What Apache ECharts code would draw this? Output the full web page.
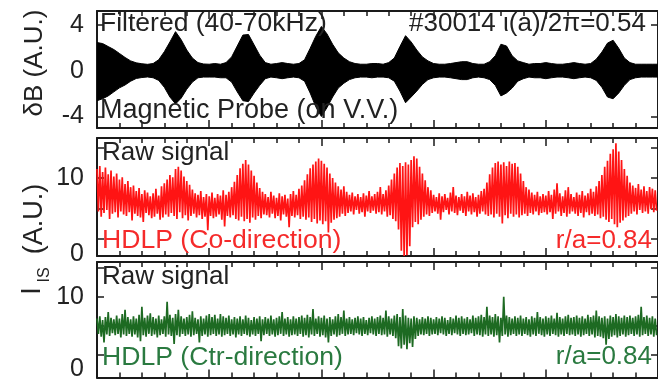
<!DOCTYPE html>
<html><head><meta charset="utf-8">
<script src="https://cdn.jsdelivr.net/npm/echarts@6/dist/echarts.min.js"></script>
<style>html,body{margin:0;padding:0;background:#fff}#c{width:658px;height:382px}</style>
</head><body><div id="c"></div><script>
// ---- data ----
const envPeriod = 0.05;   // sample spacing of the probe envelope (time units)
const rawPeriod = 0.025;  // bin spacing of the raw probe signals (time units)

// Filtered magnetic probe signal: upper / lower envelope (A.U.)
const probeUpper = [2.45,2.36,2.1,1.84,1.5,1.15,0.85,0.68,0.6,0.55,
  0.62,0.95,1.65,2.5,3.4,2.7,1.8,1.1,0.7,0.58,
  0.56,0.62,0.56,0.7,1.2,2.15,3.1,3.15,2.25,1.35,
  0.7,0.56,0.62,0.7,0.62,0.56,0.62,0.95,1.95,3.0,
  3.85,3.2,2.3,1.55,1.1,0.78,0.62,0.56,0.56,0.62,
  0.62,0.56,0.7,1.1,2.1,3.05,2.5,1.8,1.2,0.85,
  0.62,0.56,0.56,0.62,0.7,0.78,0.78,0.62,0.56,0.56,
  0.78,1.3,2.3,2.15,1.3,0.85,0.7,0.56,0.62,0.62,
  0.7,0.62,0.56,0.56,0.62,0.7,0.62,0.56,0.62,1.0,
  1.62,2.4,2.65,1.95,1.1,0.7,0.56,0.56,0.56,0.56,0.56];
const probeLower = [-2.62,-2.45,-2.2,-1.85,-1.5,-1.25,-0.92,-0.68,-0.6,-0.55,
  -0.62,-0.85,-1.45,-2.3,-2.9,-2.4,-1.62,-1.0,-0.62,-0.56,
  -0.56,-0.56,-0.62,-0.62,-1.0,-1.85,-2.62,-2.7,-1.95,-1.28,
  -0.7,-0.56,-0.62,-0.7,-0.62,-0.56,-0.62,-0.92,-1.95,-3.15,
  -4.0,-3.22,-2.3,-1.52,-1.1,-0.78,-0.62,-0.56,-0.56,-0.62,
  -0.56,-0.56,-0.62,-0.92,-1.78,-2.8,-2.3,-1.78,-1.2,-0.78,
  -0.62,-0.56,-0.56,-0.62,-0.7,-0.78,-0.78,-0.62,-0.56,-0.62,
  -0.78,-1.28,-2.2,-1.95,-1.52,-0.92,-0.7,-0.56,-0.62,-0.62,
  -0.7,-0.62,-0.56,-0.56,-0.62,-0.7,-0.62,-0.56,-0.62,-0.85,
  -1.45,-2.3,-2.45,-1.95,-1.28,-0.78,-0.62,-0.56,-0.56,-0.56,-0.56];

// HDLP co-direction raw Iis: per-bin max / min (A.U.)
const coHigh = [11.2,11.6,10.8,11.4,10.5,11.0,10.2,10.6,9.8,10.1,
  9.2,9.6,8.8,9.0,8.3,8.7,7.9,8.4,8.1,7.6,
  8.0,8.6,7.7,8.9,9.3,9.8,10.4,10.1,11.2,11.5,
  11.0,10.2,9.6,9.1,8.5,8.0,7.8,8.3,7.5,7.9,
  7.6,8.1,7.4,7.9,7.7,8.4,7.8,8.2,8.8,9.5,
  10.4,11.3,11.9,12.4,11.8,11.0,10.3,9.4,8.7,8.2,
  7.9,7.5,8.2,7.7,7.4,8.0,7.6,7.8,7.3,7.9,
  8.3,7.8,8.6,9.0,9.7,10.5,11.3,11.8,12.2,12.6,
  12.3,11.9,11.4,10.6,10.0,9.4,8.9,8.5,8.9,8.2,
  7.8,8.1,7.6,7.9,7.5,8.0,7.7,8.3,7.6,7.9,
  8.2,8.8,7.9,8.4,9.0,9.8,10.6,11.4,12.0,11.6,
  12.1,11.8,12.4,12.9,12.6,11.5,10.6,9.7,8.8,8.4,
  7.8,7.5,8.0,7.6,7.9,7.4,8.1,8.8,7.7,7.5,
  7.9,7.6,8.2,7.7,8.0,7.5,7.8,8.3,8.6,9.4,
  10.5,11.4,12.0,12.2,11.8,12.1,11.6,12.2,11.9,12.0,
  11.5,10.6,9.6,8.8,8.5,8.1,7.8,8.2,7.6,7.9,
  7.7,8.3,7.8,8.5,9.3,8.0,7.6,8.4,8.8,7.9,
  7.5,8.1,7.8,8.3,7.7,8.0,8.6,8.2,8.9,9.6,
  10.4,11.5,12.3,13.2,13.8,14.6,13.5,12.4,11.2,10.3,
  9.4,9.0,8.7,9.2,8.5,8.9,8.3,8.8,8.6,8.4];
const coLow = [5.6,4.9,5.4,5.8,4.6,5.3,5.5,4.8,5.6,5.2,
  5.0,5.5,4.4,5.3,5.0,4.8,4.2,5.4,5.1,4.7,
  4.9,5.3,4.5,4.8,5.2,4.9,5.4,5.0,4.6,5.5,
  4.7,5.1,4.4,5.0,5.3,4.8,5.1,4.6,4.9,3.1,
  5.0,4.7,4.9,5.2,4.5,3.6,5.0,4.8,5.1,4.6,
  4.4,4.9,4.3,4.6,4.1,4.8,4.5,5.0,4.7,5.2,
  5.1,4.8,5.3,4.7,5.0,4.4,5.2,4.9,3.5,5.0,
  4.8,5.1,4.6,4.9,4.5,4.8,4.2,4.6,4.0,4.4,
  3.9,4.3,2.8,4.1,4.5,4.7,4.9,5.3,5.0,5.4,
  5.6,5.2,5.8,5.3,5.5,4.9,5.6,5.4,5.7,5.3,
  5.5,5.2,5.6,4.9,5.1,4.6,4.3,3.2,0.4,-0.3,
  -0.2,1.0,3.5,4.2,3.9,4.5,4.9,5.2,5.0,5.4,
  5.6,5.3,4.5,5.5,5.8,5.2,5.6,5.4,5.1,5.7,
  5.4,5.0,5.6,5.2,5.5,4.9,5.3,5.6,5.2,5.0,
  5.2,4.8,5.3,4.9,4.0,5.1,4.7,5.3,4.9,5.2,
  4.8,5.1,5.3,5.0,5.4,5.2,5.6,5.1,5.4,5.5,
  5.2,5.5,4.6,5.3,5.6,5.0,5.4,4.9,5.3,5.6,
  5.3,5.0,5.4,4.8,5.5,5.1,5.3,5.0,5.2,4.7,
  4.9,4.5,4.2,4.6,3.9,3.5,4.1,4.4,4.8,5.0,
  5.3,5.6,5.2,5.8,5.4,5.6,5.3,5.9,5.5,5.7];

// HDLP counter-direction raw Iis: per-bin max / min (A.U.)
const ctrHigh = [7.0,7.3,6.8,7.2,7.9,7.1,6.9,7.4,7.0,7.6,
  8.2,7.2,6.9,7.3,7.0,7.5,8.6,7.1,7.4,7.7,
  7.2,7.0,7.4,6.9,7.3,9.3,7.5,7.1,7.6,8.2,
  7.3,7.0,7.2,7.5,8.0,7.1,6.9,7.3,7.0,7.4,
  7.6,7.2,7.5,7.0,7.6,7.3,7.1,7.4,6.9,7.2,
  7.0,7.3,6.9,7.4,7.1,6.8,7.2,7.0,7.3,6.9,
  7.2,7.0,7.4,6.9,7.1,7.3,7.9,7.0,7.2,6.9,
  7.3,7.0,7.2,7.4,7.1,7.5,7.2,8.3,7.0,7.3,
  7.1,7.4,7.0,7.2,6.9,7.3,7.6,7.2,8.1,7.0,
  7.2,6.9,7.1,7.3,7.0,7.2,6.8,7.1,7.3,7.0,
  7.2,7.4,7.1,8.1,7.3,7.0,7.4,7.6,7.2,8.3,
  7.4,7.1,7.0,7.3,7.1,6.9,7.2,7.0,7.3,7.1,
  6.9,7.2,7.0,7.3,7.1,6.8,7.2,7.0,7.4,7.1,
  7.3,7.0,7.2,6.9,7.4,7.1,7.3,7.5,7.2,8.6,
  7.4,7.2,7.6,7.3,7.1,10.0,7.4,7.2,7.0,7.3,
  7.1,7.4,7.0,7.2,6.9,7.3,7.1,7.9,7.2,7.0,
  7.3,7.1,7.4,7.0,7.8,7.2,7.0,7.3,7.5,7.1,
  7.2,7.4,7.1,7.3,7.0,7.5,7.2,7.4,8.1,7.3,
  7.1,7.3,7.0,7.4,7.2,7.6,7.3,7.1,7.4,7.2,
  7.4,7.1,7.3,7.5,8.6,7.2,7.4,7.1,7.3,7.0];
const ctrLow = [4.9,4.5,3.7,4.8,4.6,5.0,4.7,4.9,4.4,4.8,
  4.6,4.9,4.5,4.8,4.4,3.9,4.7,4.5,4.9,4.6,
  4.8,4.4,4.7,4.9,4.5,4.8,4.6,3.5,4.7,4.5,
  4.9,4.6,4.8,4.5,4.7,4.9,3.7,4.6,4.8,4.5,
  4.7,4.9,4.6,4.8,4.5,4.7,4.9,4.6,4.8,4.4,
  4.8,4.6,4.9,4.7,4.5,4.8,4.6,4.9,3.9,4.7,
  4.9,4.6,4.8,4.5,4.7,4.9,4.6,4.8,4.5,4.7,
  4.8,4.6,4.9,4.5,4.7,4.4,4.8,4.6,4.9,4.5,
  4.7,4.4,3.7,4.6,4.8,4.5,4.7,4.9,4.6,4.8,
  4.9,4.7,5.0,4.8,4.6,4.9,4.7,5.0,4.8,4.6,
  4.9,4.7,4.8,4.5,4.8,4.6,4.3,3.2,2.9,3.4,
  2.8,3.6,3.1,4.2,4.6,4.8,4.7,4.9,4.6,4.8,
  4.9,4.7,5.0,4.8,4.6,4.9,4.7,5.0,4.8,4.6,
  4.9,4.7,4.8,5.0,4.6,4.8,4.7,4.5,4.8,4.6,
  4.8,4.5,4.7,3.7,4.6,4.8,4.5,4.7,4.9,4.6,
  4.8,4.6,4.9,4.7,4.5,4.8,4.6,4.9,4.7,4.5,
  4.8,4.6,4.9,4.7,4.5,4.8,4.6,4.9,4.7,4.8,
  4.6,4.8,4.5,4.7,4.9,4.6,4.8,4.4,4.6,4.5,
  4.3,3.4,4.2,4.5,4.7,4.4,4.6,4.8,4.5,4.7,
  4.9,4.6,4.8,4.5,4.7,4.9,4.6,4.8,4.5,4.7];

const probeTicks = [-4, 0, 4];
const iisTicks = [2, 6, 10, 14];
const iisLabels = [0, 10];

// ---- build series data ----
const envUp = probeUpper.map((v, i) => [i * envPeriod, v]);
const envLo = probeLower.map((v, i) => [i * envPeriod, v]);
function zigzag(hi, lo) {
  const out = [];
  for (let i = 0; i < hi.length; i++) {
    out.push([i * rawPeriod, hi[i]]);
    out.push([i * rawPeriod + rawPeriod / 2, lo[i]]);
  }
  return out;
}
const coData = zigzag(coHigh, coLow);
const ctrData = zigzag(ctrHigh, ctrLow);

const FONT = '"Liberation Sans", Arial, sans-serif';
const AX = '#1a1a1a';

const grids = [
  {left: 97, top: 11, width: 565, height: 117},
  {left: 97, top: 138, width: 565, height: 118},
  {left: 97, top: 262, width: 565, height: 120}
];
const yRanges = [[-5, 5.2], [-0.3, 15.3], [-1.1, 14.76]];
const yTickVals = [probeTicks, iisTicks, iisTicks];
const yLabelVals = [probeTicks, iisLabels, iisLabels];

const xAxes = [], yAxes = [];
grids.forEach((g, k) => {
  ['bottom', 'top'].forEach(pos => {
    xAxes.push({
      type: 'value', gridIndex: k, position: pos, min: 0, max: 5, interval: 1,
      axisLine: {show: true, onZero: false, lineStyle: {color: AX, width: 2}},
      axisTick: {show: true, inside: true, length: 8, lineStyle: {color: AX, width: 1.5}},
      minorTick: {show: true, splitNumber: 5, length: 5, lineStyle: {color: AX, width: 1.5}},
      axisLabel: {show: false}, splitLine: {show: false}
    });
  });
  ['left', 'right'].forEach(pos => {
    yAxes.push({
      type: 'value', gridIndex: k, position: pos, min: yRanges[k][0], max: yRanges[k][1],
      axisLine: {show: true, onZero: false, lineStyle: {color: AX, width: 2}},
      axisTick: {show: true, inside: true, length: 7, customValues: yTickVals[k], lineStyle: {color: AX, width: 1.5}},
      axisLabel: {show: pos === 'left', customValues: yLabelVals[k], margin: 13,
        fontSize: 25, fontFamily: FONT, color: '#222'},
      splitLine: {show: false}
    });
  });
});

function txt(x, y, s, opt) {
  return Object.assign({type: 'text', x: x, y: y, silent: true, z: 100,
    style: Object.assign({text: s, fontSize: 26, fontFamily: FONT, fill: '#222',
      align: 'left', verticalAlign: 'middle'}, opt || {})});
}
const RED_T = '#f52a2a', GREEN_T = '#2a7a40';
const graphics = [
  txt(100, 24, 'Filtered (40-70kHz)', {fontSize: 26.5}),
  txt(409, 24, '#30014 \u03B9(a)/2\u03C0=0.54'),
  txt(100, 111, 'Magnetic Probe (on V.V.)', {fontSize: 27}),
  txt(102, 153, 'Raw signal'),
  txt(102, 241, 'HDLP (Co-direction)', {fill: RED_T, fontSize: 26.6}),
  txt(652, 241, 'r/a=0.84', {fill: RED_T, align: 'right'}),
  txt(102, 277, 'Raw signal'),
  txt(102, 358, 'HDLP (Ctr-direction)', {fill: GREEN_T, fontSize: 26.6}),
  txt(652, 357, 'r/a=0.84', {fill: GREEN_T, align: 'right'}),
  Object.assign(txt(35, 63, '\u03B4B (A.U.)', {align: 'center', fontSize: 26}), {rotation: Math.PI / 2}),
  Object.assign(txt(35, 219, '(A.U.)', {align: 'center', fontSize: 27}), {rotation: Math.PI / 2}),
  Object.assign(txt(33, 291, 'I', {align: 'center', fontSize: 27}), {rotation: Math.PI / 2}),
  Object.assign(txt(45, 275, 'IS', {align: 'center', fontSize: 16}), {rotation: Math.PI / 2})
];

const chart = echarts.init(document.getElementById('c'), null, {renderer: 'canvas'});
chart.setOption({
  animation: false,
  backgroundColor: '#fff',
  grid: grids,
  xAxis: xAxes,
  yAxis: yAxes,
  series: [
    {type: 'line', xAxisIndex: 0, yAxisIndex: 0, data: envUp, showSymbol: false,
      lineStyle: {color: '#000', width: 1}, areaStyle: {color: '#000', opacity: 1, origin: -0.3}},
    {type: 'line', xAxisIndex: 0, yAxisIndex: 0, data: envLo, showSymbol: false,
      lineStyle: {color: '#000', width: 1}, areaStyle: {color: '#000', opacity: 1, origin: 0.3}},
    {type: 'line', xAxisIndex: 2, yAxisIndex: 2, data: coData, showSymbol: false, sampling: null,
      lineStyle: {color: '#ff1414', width: 1.7}},
    {type: 'line', xAxisIndex: 4, yAxisIndex: 4, data: ctrData, showSymbol: false, sampling: null,
      lineStyle: {color: '#1d6a22', width: 1.7}}
  ],
  graphic: graphics
});
</script></body></html>
